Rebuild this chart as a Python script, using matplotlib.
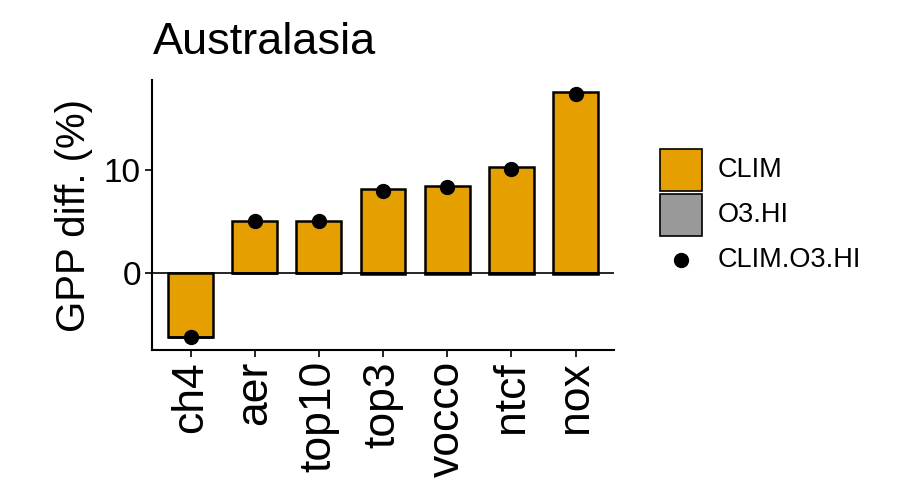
import numpy as np
import matplotlib.pyplot as plt
from matplotlib.patches import Rectangle

plt.rcParams['font.family'] = ['Liberation Sans', 'DejaVu Sans']

# GPP difference (%) per experiment, Australasia
experiments = ['ch4', 'aer', 'top10', 'top3', 'vocco', 'ntcf', 'nox']
clim = [-6.2, 5.0, 5.0, 8.1, 8.45, 10.3, 17.5]
o3_hi = [-0.08, -0.02, -0.02, -0.15, -0.15, -0.15, -0.15]
clim_o3_hi = [-6.2, 5.0, 5.0, 7.9, 8.3, 10.1, 17.3]
legend_labels = ['CLIM', 'O3.HI', 'CLIM.O3.HI']

orange = '#E69F00'
grey = '#999999'

W, H = 922, 490
fig = plt.figure(figsize=(W / 100, H / 100), dpi=100)
ax = fig.add_axes([152/W, 1 - 350/H, 462/W, 270/H])

x = np.arange(len(experiments))
clim = np.array(clim)
o3_hi = np.array(o3_hi)
# stack like ggplot: negatives pile under negatives, positives over positives
o3_bottom = np.where((clim < 0) & (o3_hi < 0), clim, np.where((clim > 0) & (o3_hi > 0), clim, 0))

ax.bar(x, clim, width=0.7, color=orange, edgecolor='black', linewidth=1.8, zorder=2)
ax.bar(x, o3_hi, width=0.7, bottom=o3_bottom, color=grey, edgecolor='black', linewidth=1.8, zorder=2)
ax.axhline(0, color='black', linewidth=1.2, zorder=3)
ax.scatter(x, clim_o3_hi, s=100, color='black', zorder=4)

ax.set_xlim(-0.6, len(experiments) - 0.4)
ax.set_ylim(-7.5, 18.7)
ax.set_yticks([0, 10])
ax.set_xticks(x)
ax.set_xticklabels(experiments, rotation=90, fontsize=32)
ax.tick_params(axis='y', labelsize=24, length=5, width=1.2, pad=3)
ax.tick_params(axis='x', length=5, width=1.2, pad=3)

for side in ['top', 'right']:
    ax.spines[side].set_visible(False)
for side in ['left', 'bottom']:
    ax.spines[side].set_linewidth(1.5)

ax.set_ylabel('GPP diff. (%)', fontsize=29, labelpad=8)
fig.text(153/W, 1 - 54/H, 'Australasia', fontsize=32.5, va='baseline', ha='left')

# legend drawn by hand: two filled keys and one dot key, rows 45 px apart
key_x, key_size, row_y = 660, 42, [170, 215, 260]
for y, fc in zip(row_y[:2], [orange, grey]):
    fig.patches.append(Rectangle((key_x / W, 1 - (y + key_size / 2) / H), key_size / W, key_size / H,
                                 transform=fig.transFigure, facecolor=fc, edgecolor='black',
                                 linewidth=1.2))
fig.add_artist(plt.Line2D([(key_x + key_size / 2) / W], [1 - row_y[2] / H], marker='o',
                          markersize=10, color='black', linestyle='none',
                          transform=fig.transFigure))
for y, label in zip(row_y, legend_labels):
    fig.text(718 / W, 1 - y / H, label, fontsize=19.5, va='center', ha='left')

fig.savefig('out.png', dpi=100)
